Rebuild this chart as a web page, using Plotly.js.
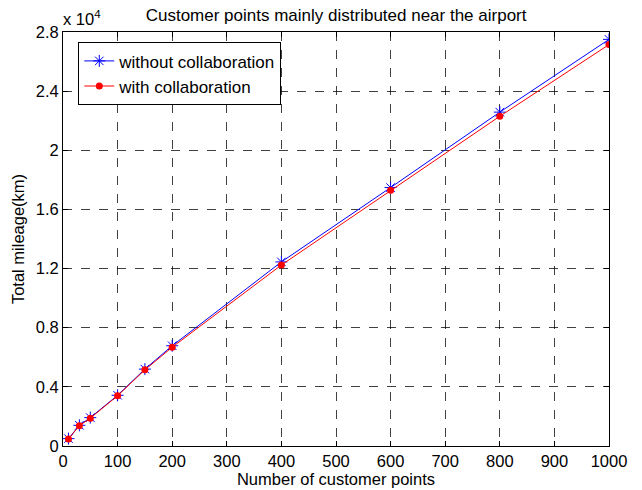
<!DOCTYPE html>
<html>
<head>
<meta charset="utf-8">
<script src="https://cdn.plot.ly/plotly-3.0.1.min.js"></script>
<style>html,body{margin:0;padding:0;background:#fff;}#chart{width:642px;height:490px;}</style>
</head>
<body>
<div id="chart"></div>
<script>
const customerPoints = [10, 30, 50, 100, 150, 200, 400, 600, 800, 1000];
const withoutCollab = [500, 1400, 1920, 3430, 5200, 6780, 12450, 17480, 22580, 27500];
const withCollab = [480, 1370, 1880, 3400, 5150, 6680, 12240, 17300, 22300, 27150];
const yTickVals = [0, 4000, 8000, 12000, 16000, 20000, 24000, 28000];
const yTickText = ['0', '0.4', '0.8', '1.2', '1.6', '2', '2.4', '2.8'];
const xTickVals = [0, 100, 200, 300, 400, 500, 600, 700, 800, 900, 1000];

const font = {family: 'Liberation Sans, Arial, sans-serif', size: 16.5, color: '#000'};

const traces = [
  {x: customerPoints, y: withoutCollab, name: 'without collaboration', mode: 'lines+markers',
   line: {color: '#0000ff', width: 1}, marker: {symbol: 'asterisk-open', size: 10, color: '#0000ff', line: {color: '#0000ff', width: 1}}},
  {x: customerPoints, y: withCollab, name: 'with collaboration', mode: 'lines+markers',
   line: {color: '#ff0000', width: 1}, marker: {symbol: 'circle', size: 7, color: '#ff0000'}}
];

const axisCommon = {
  showline: true, linecolor: '#000', linewidth: 1, mirror: 'ticks',
  ticks: 'inside', ticklen: 5, tickcolor: '#000',
  showgrid: true, gridcolor: 'rgba(0,0,0,0.75)', griddash: 'dash', gridwidth: 1,
  zeroline: false, tickfont: font
};

const layout = {
  width: 642, height: 490,
  margin: {l: 63, r: 33, t: 32, b: 44},
  paper_bgcolor: '#fff', plot_bgcolor: '#fff',
  font: font,
  title: {text: 'Customer points mainly distributed near the airport', font: {family: font.family, size: 17, color: '#000'},
          x: 0.5235, xanchor: 'center', y: 0.97, yanchor: 'middle'},
  xaxis: Object.assign({}, axisCommon, {range: [0, 1000], tickvals: xTickVals,
    title: {text: 'Number of customer points', font: font, standoff: 4}}),
  yaxis: Object.assign({}, axisCommon, {range: [0, 28000], tickvals: yTickVals, ticktext: yTickText,
    title: {text: 'Total mileage(km)', font: font, standoff: 6}}),
  showlegend: true,
  legend: {x: 0.028, y: 0.975, xanchor: 'left', yanchor: 'top', bgcolor: '#fff', bordercolor: '#000', borderwidth: 1,
           font: {family: font.family, size: 17, color: '#000'}, tracegroupgap: 0},
  annotations: [{text: 'x 10<sup>4</sup>', xref: 'paper', yref: 'paper', x: 0, y: 1, xanchor: 'left', yanchor: 'bottom',
                 showarrow: false, font: font, xshift: -2, yshift: 2}]
};

Plotly.newPlot('chart', traces, layout, {displayModeBar: false, staticPlot: true});
</script>
</body>
</html>
